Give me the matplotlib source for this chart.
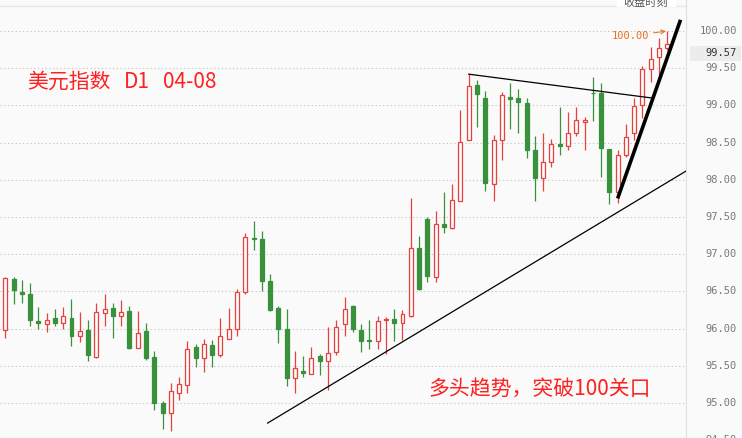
import matplotlib
matplotlib.use("Agg")
import matplotlib.pyplot as plt
from matplotlib.patches import Rectangle

plt.rcParams['font.family'] = ['Noto Sans CJK SC', 'DejaVu Sans']

# 美元指数 日线 OHLC
opens = [95.98, 96.66, 96.49, 96.47, 96.10, 96.06, 96.14, 96.07, 96.14, 95.90,
         95.98, 95.62, 96.21, 96.28, 96.17, 96.24, 95.74, 95.97, 95.62, 95.00,
         94.87, 95.14, 95.24, 95.75, 95.60, 95.78, 95.64, 95.86, 96.00, 96.49,
         97.22, 97.21, 96.64, 96.28, 95.99, 95.34, 95.43, 95.39, 95.63, 95.56,
         95.69, 96.06, 96.30, 95.98, 95.85, 95.83, 96.11, 96.13, 96.08, 96.17,
         97.08, 97.47, 96.70, 97.41, 97.35, 97.72, 98.53, 99.28, 99.10, 97.95,
         98.54, 99.11, 99.10, 99.03, 98.40, 98.03, 98.24, 98.48, 98.45, 98.63,
         98.78, 99.17, 99.16, 98.42, 97.83, 98.34, 98.63, 99.00, 99.49, 99.65,
         99.77]
highs = [96.69, 96.69, 96.65, 96.61, 96.29, 96.21, 96.26, 96.29, 96.40, 96.22,
         96.12, 96.34, 96.47, 96.34, 96.38, 96.30, 96.24, 96.08, 95.70, 95.03,
         95.27, 95.35, 95.83, 95.79, 95.86, 95.85, 96.14, 96.28, 96.53, 97.29,
         97.45, 97.31, 96.73, 96.30, 96.26, 95.70, 95.63, 95.75, 95.66, 96.02,
         96.11, 96.43, 96.32, 96.06, 96.11, 96.17, 96.16, 96.27, 96.25, 97.75,
         97.24, 97.50, 97.58, 97.84, 97.95, 98.94, 99.42, 99.34, 99.19, 98.60,
         99.18, 99.30, 99.22, 99.10, 98.59, 98.63, 98.55, 98.98, 98.91, 98.98,
         98.85, 99.38, 99.30, 98.42, 98.40, 98.75, 99.10, 99.53, 99.78, 99.90,
         100.00]
lows = [95.88, 96.33, 96.35, 96.03, 95.99, 95.96, 96.04, 95.99, 95.76, 95.82,
        95.57, 95.61, 96.03, 95.88, 96.03, 95.72, 95.74, 95.58, 94.90, 94.65,
        94.63, 95.04, 95.13, 95.49, 95.42, 95.49, 95.62, 95.86, 95.90, 96.47,
        97.06, 96.51, 96.23, 95.80, 95.23, 95.13, 95.35, 95.39, 95.38, 95.17,
        95.64, 95.90, 95.95, 95.68, 95.72, 95.72, 95.66, 95.84, 95.85, 96.16,
        96.52, 96.62, 96.62, 97.28, 97.34, 97.72, 98.53, 98.71, 97.85, 97.71,
        98.26, 98.68, 98.63, 98.29, 97.72, 97.85, 98.17, 98.33, 98.40, 98.59,
        98.40, 98.79, 98.04, 97.68, 97.69, 98.30, 98.53, 98.83, 99.32, 99.41,
        99.74]
closes = [96.68, 96.52, 96.47, 96.11, 96.07, 96.12, 96.07, 96.17, 95.90, 95.97,
          95.65, 96.22, 96.26, 96.17, 96.22, 95.74, 95.94, 95.60, 95.00, 94.87,
          95.16, 95.25, 95.72, 95.61, 95.79, 95.64, 95.90, 95.99, 96.49, 97.23,
          97.20, 96.64, 96.25, 95.99, 95.34, 95.47, 95.40, 95.60, 95.56, 95.67,
          96.02, 96.27, 95.99, 95.84, 95.83, 96.10, 96.13, 96.08, 96.19, 97.08,
          96.53, 96.71, 97.40, 97.36, 97.73, 98.51, 99.26, 99.15, 97.96, 98.53,
          99.14, 99.09, 99.04, 98.40, 98.03, 98.24, 98.48, 98.46, 98.63, 98.80,
          98.81, 99.16, 98.43, 97.84, 98.34, 98.58, 98.99, 99.49, 99.63, 99.77,
          99.83]

price_ticks = [95.0, 95.5, 96.0, 96.5, 97.0, 97.5, 98.0, 98.5, 99.0, 99.5, 100.0]
last_label = "99.57"

# trend lines: (bar index, price)
support_line = ([31.7, 82.3], [94.73, 98.12])
resist_line = ([56.0, 78.1], [99.42, 99.10])
breakout_line = ([74.0, 81.6], [97.75, 100.15])

W, H = 742, 438
bg = "#fafafa"
up_col = "#e8403f"
down_col = "#3a913c"

fig = plt.figure(figsize=(W / 100, H / 100), dpi=100, facecolor=bg)
ax = fig.add_axes([0, 0, 686 / W, 1])
ax.set_facecolor(bg)
ax.set_xlim(-0.64, 82.26)
ax.set_ylim(94.5296, 100.4167)

for t in price_ticks:
    ax.axhline(t, color="#c4c4c4", lw=0.75, ls=(0, (1.2, 2.4)), zorder=0)

n = len(opens)
for i in range(n):
    o, h, l, c = opens[i], highs[i], lows[i], closes[i]
    col = up_col if c >= o else down_col
    ax.vlines(i, l, h, color=col, lw=0.9, zorder=2)
    bottom = min(o, c)
    height = max(abs(c - o), 0.012)
    face = bg if c >= o else down_col
    ax.add_patch(Rectangle((i - 0.24, bottom), 0.48, height, facecolor=face,
                           edgecolor=col, lw=0.9, zorder=3))

ax.plot(*support_line, color="black", lw=0.9, zorder=4)
ax.plot(*resist_line, color="black", lw=0.9, zorder=4)
ax.plot(*breakout_line, color="black", lw=2.6, zorder=4, solid_capstyle="butt")

ax.annotate("100.00", xy=(n - 1, highs[-1]), xytext=(-18, -5),
            textcoords="offset pixels", ha="right", va="center",
            color="#e8701e", fontsize=7.5, family="DejaVu Sans Mono",
            arrowprops=dict(arrowstyle="->", color="#e8701e", lw=0.7,
                            shrinkA=1, shrinkB=1))

for sp in ["top", "left", "bottom"]:
    ax.spines[sp].set_visible(False)
ax.spines["right"].set_color("#dedede")
ax.set_xticks([])
ax.set_yticks([])

# top border line and clipped info box
ax.plot([0, 1], [1 - 6 / H] * 2, transform=ax.transAxes, color="#e8e8e8", lw=1, clip_on=False)
fig.patches.append(Rectangle((617 / W, 1 - 7 / H), 59 / W, 7 / H, transform=fig.transFigure,
                             facecolor="white", edgecolor="none"))
fig.text(646 / W, 1 - 8 / H, "收盘时刻", ha="center", va="bottom", fontsize=8, color="#555555")

# right price labels
for t in price_ticks + [94.5]:
    ax.text(737 / 686, t, f"{t:.2f}", transform=ax.get_yaxis_transform(), ha="right",
            va="center", fontsize=7.5, family="DejaVu Sans Mono", color="#7a7a7a", clip_on=False)

fig.patches.append(Rectangle((690 / W, 1 - 60.7 / H), 51 / W, 14.7 / H, transform=fig.transFigure,
                             facecolor="#ececec", edgecolor="none"))
fig.text(737 / W, 1 - 53.5 / H, last_label, ha="right", va="center", fontsize=7.5,
         family="DejaVu Sans Mono", color="#333333")

# captions
red = "#ff2020"
fig.text(27 / W, 1 - 82 / H, "美元指数", ha="left", va="center", fontsize=15, color=red)
fig.text(124 / W, 1 - 82 / H, "D1", ha="left", va="center", fontsize=15, color=red)
fig.text(163 / W, 1 - 82 / H, "04-08", ha="left", va="center", fontsize=15, color=red)
fig.text(428 / W, 1 - 389 / H, "多头趋势，突破100关口", ha="left", va="center", fontsize=15, color=red)

fig.savefig("out.png", dpi=100, facecolor=bg)
